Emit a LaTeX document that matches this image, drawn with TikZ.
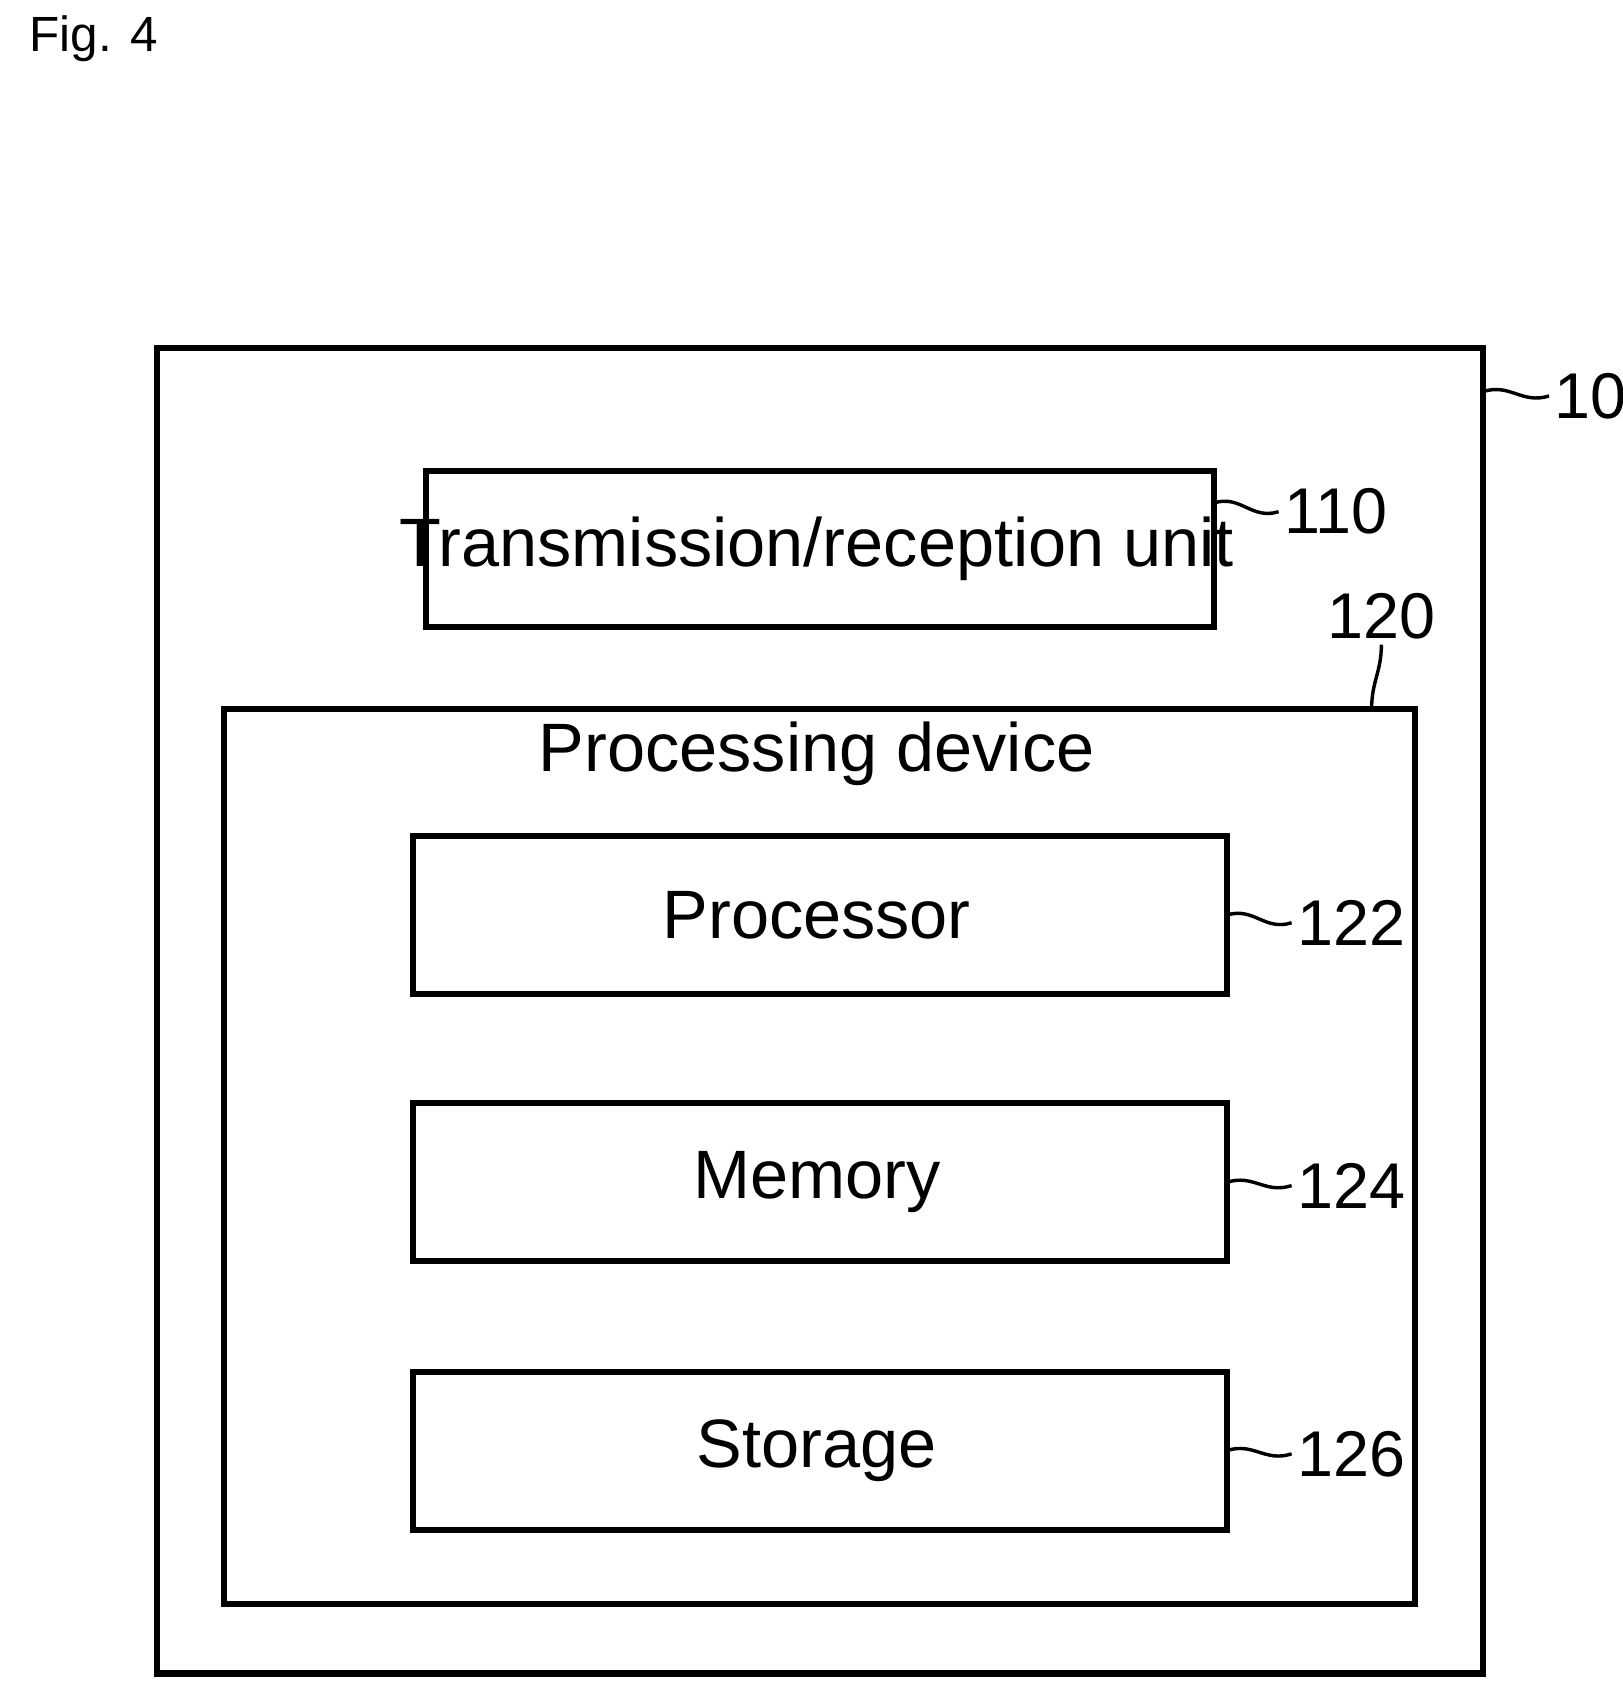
\documentclass[tikz,border=0pt]{standalone}
\usepackage{fontspec}
\setmainfont{Liberation Sans}
\begin{document}
\begin{tikzpicture}
[x=0.01cm,y=-0.01cm,line width=0.9pt,
 box/.style={draw,line width=1.6pt,inner sep=0pt},
 unit/.style={font=\fontsize{18}{20}\selectfont},
 ref/.style={font=\fontsize{17}{19}\selectfont,anchor=west,inner sep=1pt}]
\useasboundingbox (0,0) rectangle (1500,1566);
\node[anchor=west,font=\fontsize{13}{15}\selectfont] (fig) at (14,36) {Fig. 4};
% boxes
\draw[box] (145,322) rectangle (1371,1547);
\draw[box] (394,435) rectangle (1122,580);
\draw[box] (207,655) rectangle (1308,1483);
\foreach \y/\n in {773/pro,1020/mem,1268/sto}{
	\draw[box] (382,\y) rectangle (1134,\y+146);
	\coordinate (\n) at (1134,\y+73);
	}
% texts
\node[unit] (trx) at (755,507) {Transmission/reception unit};
\node[unit] (dev) at (755,697) {Processing device};
\node[unit] (cpu) at (755,846) {Processor};
\node[unit] (ram) at (755,1093) {Memory};
\node[unit] (hdd) at (755,1341) {Storage};
% reference numerals
\coordinate (e10) at (1371,362);
\coordinate (e110) at (1122,465);
\coordinate (e120) at (1268,655);
\node[ref] (r10) at (1432,366) {10};
\node[ref] (r110) at (1182,473) {110};
\node[ref,anchor=south] (r120) at (1277,596) {120};
\node[ref] (r122) at (1194,853) {122};
\node[ref] (r124) at (1194,1096) {124};
\node[ref] (r126) at (1194,1344) {126};
\draw (e10) .. controls +(25,-8) and +(-25,8) .. (r10.west);
\draw (e110) .. controls +(25,-8) and +(-25,8) .. (r110.west);
\draw (e120) .. controls +(0,-25) and +(0,25) .. (r120.south);
\draw (pro) .. controls +(25,-8) and +(-25,8) .. (r122.west);
\draw (mem) .. controls +(25,-8) and +(-25,8) .. (r124.west);
\draw (sto) .. controls +(25,-8) and +(-25,8) .. (r126.west);
\end{tikzpicture}
\end{document}
